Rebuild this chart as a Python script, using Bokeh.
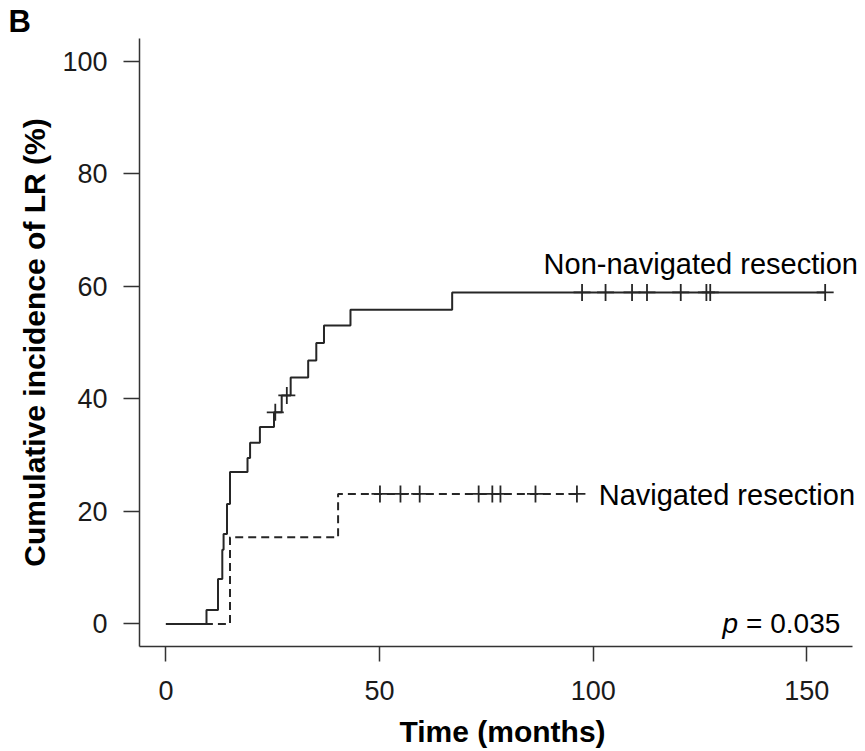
from bokeh.plotting import figure
from bokeh.models import Range1d, FixedTicker, Label, Title
from bokeh.embed import file_html
from bokeh.resources import INLINE

# ---- data ----
nonnav_time = [0, 9.5, 12.2, 13.2, 13.5, 14.3, 15.0, 19.1, 19.7, 22.0, 25.3, 27.1,
               29.2, 33.3, 35.2, 37.0, 43.2, 67.0, 154.3]
nonnav_cif = [0, 2.5, 8.0, 13.2, 16.0, 21.3, 27.0, 29.5, 32.2, 35.0, 37.6, 40.6,
              43.8, 46.8, 49.9, 53.0, 55.8, 58.9, 58.9]
nonnav_cens_time = [25.6, 28.3, 97.4, 102.9, 109.1, 112.6, 120.5, 126.5, 127.4, 154.3]
nonnav_cens_cif = [37.6, 40.6, 58.9, 58.9, 58.9, 58.9, 58.9, 58.9, 58.9, 58.9]

nav_time = [0, 15.0, 40.3, 96.2]
nav_cif = [0, 15.4, 23.1, 23.1]
nav_cens_time = [50.1, 54.9, 59.4, 73.2, 76.4, 78.3, 86.5, 96.2]
nav_cens_cif = [23.1, 23.1, 23.1, 23.1, 23.1, 23.1, 23.1, 23.1]

x_ticks = [0, 50, 100, 150]
y_ticks = [0, 20, 40, 60, 80, 100]

LINE = "#262626"
FONT = "Liberation Sans"

X_LO, X_HI = -6.18, 160.7   # axis extent
X_VIEW_HI = 163.74          # frame extends a little further so labels are not clipped

p = figure(frame_width=726, frame_height=608,
           min_border_left=139, min_border_right=0, min_border_top=38, min_border_bottom=105,
           x_range=Range1d(X_LO, X_VIEW_HI), y_range=Range1d(-4, 104),
           output_backend="svg", toolbar_location=None, tools="")
p.outline_line_color = None
p.xgrid.visible = False
p.ygrid.visible = False
p.background_fill_color = "white"
p.border_fill_color = "white"

p.title = Title(text="B", align="left", offset=-131, text_font=FONT,
                text_font_size="31px", text_font_style="bold", text_color="#000000",
                standoff=0, vertical_align="bottom")

for ax in (p.xaxis[0], p.yaxis[0]):
    ax.axis_line_color = "#333333"
    ax.axis_line_width = 1.5
    ax.major_tick_line_color = "#333333"
    ax.major_tick_line_width = 1.5
    ax.major_tick_in = 0
    ax.minor_tick_line_color = None
    ax.major_label_text_font = FONT
    ax.major_label_text_font_size = "27px"
    ax.major_label_text_color = "#1a1a1a"
    ax.axis_label_text_font = FONT
    ax.axis_label_text_font_style = "bold"
    ax.axis_label_text_font_size = "30px"
    ax.axis_label_text_color = "#000000"

p.xaxis[0].bounds = (X_LO, X_HI)
p.xaxis[0].ticker = FixedTicker(ticks=x_ticks)
p.yaxis[0].ticker = FixedTicker(ticks=y_ticks)
p.xaxis[0].major_tick_out = 15
p.yaxis[0].major_tick_out = 16
p.xaxis[0].major_label_standoff = 19
p.yaxis[0].major_label_standoff = 16
p.yaxis[0].major_label_orientation = "horizontal"
p.xaxis[0].axis_label = "Time (months)"
p.yaxis[0].axis_label = "Cumulative incidence of LR (%)"
p.xaxis[0].axis_label_standoff = 12
p.yaxis[0].axis_label_standoff = 8

# curves
p.step(nonnav_time, nonnav_cif, mode="after", line_color=LINE, line_width=2)
p.step(nav_time, nav_cif, mode="after", line_color=LINE, line_width=2, line_dash="8 5")
p.scatter(nonnav_cens_time, nonnav_cens_cif, marker="cross", size=17,
          line_color=LINE, line_width=1.8)
p.scatter(nav_cens_time, nav_cens_cif, marker="cross", size=17,
          line_color=LINE, line_width=1.8)

# annotations
def lab(x, y, text, size="29px", style="normal", x_offset=0):
    p.add_layout(Label(x=x, y=y, text=text, text_font=FONT, text_font_size=size,
                       text_font_style=style, text_color="#000000",
                       text_baseline="alphabetic", text_align="left", x_offset=x_offset))

lab(88.4, 63.86, "Non-navigated resection")
lab(101.3, 22.9, "Navigated resection")
lab(130.3, 0.08, "p", size="28px", style="italic")
lab(130.3, 0.08, "= 0.035", size="28px", x_offset=23.5)

open("out.html", "w").write(file_html(p, INLINE))
